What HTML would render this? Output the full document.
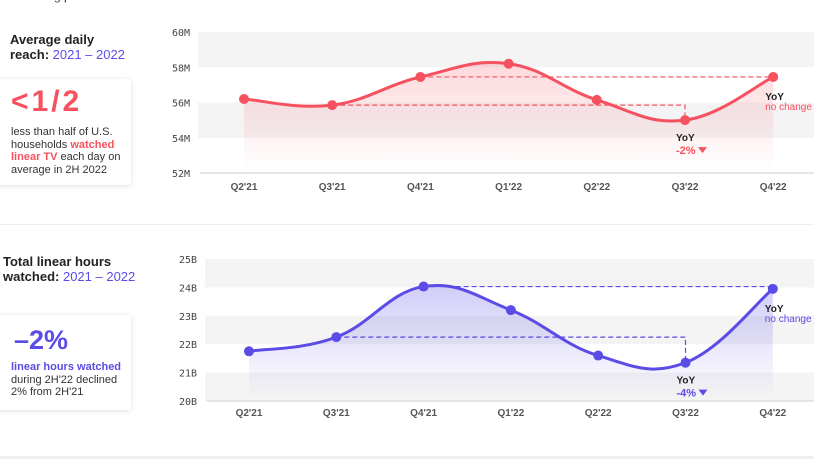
<!DOCTYPE html>
<html><head><meta charset="utf-8"><style>
body{margin:0;width:814px;height:459px;overflow:hidden;background:#fff;font-family:"Liberation Sans",sans-serif;position:relative;color:#222}
.abs{position:absolute}
.title{font-weight:bold;font-size:13px;line-height:15px;color:#222}
.title span{font-weight:normal;color:#5b4ce6}
.card{background:#fff;box-shadow:0 1px 6px rgba(0,0,0,0.12);border-radius:3px}
.small{font-size:11px;line-height:12.5px;color:#333}
</style></head><body>
<div class="abs" style="left:8px;top:-11px;font-size:12px;color:#333">streaming platforms.</div>
<div class="abs title" style="left:10px;top:32px">Average daily<br>reach: <span>2021 – 2022</span></div>
<div class="abs card" style="left:-5px;top:79px;width:136px;height:106px">
 <div class="abs" style="left:16px;top:6px;font-size:30px;font-weight:bold;color:#f5515f;letter-spacing:3px">&lt;1/2</div>
 <div class="abs small" style="left:16px;top:47px;width:120px">less than half of U.S. households <b style="color:#f5515f">watched linear TV</b> each day on average in 2H 2022</div>
</div>
<div class="abs" style="left:0;top:224px;width:814px;height:1px;background:#eee"></div>
<div class="abs title" style="left:3px;top:254px">Total linear hours<br>watched: <span>2021 – 2022</span></div>
<div class="abs card" style="left:-5px;top:315px;width:136px;height:95px">
 <div class="abs" style="left:19px;top:10px;font-size:27px;font-weight:bold;color:#5b4ce6">–2%</div>
 <div class="abs small" style="left:16px;top:46px;width:120px"><b style="color:#5b4ce6">linear hours watched</b><br>during 2H'22 declined 2% from 2H'21</div>
</div>
<div class="abs" style="left:0;top:456px;width:814px;height:3px;background:#f0f0f0"></div>
<svg id="svg" class="abs" style="left:0;top:0" width="814" height="459">
<defs>
<linearGradient id="gr" x1="0" y1="0" x2="0" y2="1"><stop offset="0" stop-color="#f5515f" stop-opacity="0.22"/><stop offset="1" stop-color="#f5515f" stop-opacity="0"/></linearGradient>
<linearGradient id="gp" x1="0" y1="0" x2="0" y2="1"><stop offset="0" stop-color="#5b4ce6" stop-opacity="0.28"/><stop offset="1" stop-color="#5b4ce6" stop-opacity="0"/></linearGradient>
</defs>
</svg>
<script>
const categories=["Q2 '21","Q3 '21","Q4 '21","Q1 '22","Q2 '22","Q3 '22","Q4 '22"];
const reachValues=[56.2,55.85,57.45,58.2,56.15,55.0,57.45];
const reachTicks=["52M","54M","56M","58M","60M"];
const hoursValues=[21.75,22.25,24.03,23.2,21.6,21.35,23.95];
const hoursTicks=["20B","21B","22B","23B","24B","25B"];
const reachYoY="-2%";
const hoursYoY="-4%";
const NS="http://www.w3.org/2000/svg";
const svg=document.getElementById('svg');
function mk(tag,attrs,name){const e=document.createElementNS(NS,tag);for(const k in attrs)e.setAttribute(k,attrs[k]);


svg.appendChild(e);return e;}
function smooth(p){let d=`M${p[0][0]},${p[0][1]}`;for(let i=0;i<p.length-1;i++){const p0=p[Math.max(i-1,0)],p1=p[i],p2=p[i+1],p3=p[Math.min(i+2,p.length-1)];const t=0.2;
d+=` C${p1[0]+(p2[0]-p0[0])*t},${p1[1]+(p2[1]-p0[1])*t} ${p2[0]-(p3[0]-p1[0])*t},${p2[1]-(p3[1]-p1[1])*t} ${p2[0]},${p2[1]}`;}return d;}
function chart(o){
 const {vals,ticks,min,max,top,bottom,left,x0,dx,color,grad,prefix,yoy,labelY}=o;
 const y=v=>bottom-(v-min)/(max-min)*(bottom-top);
 const x=i=>x0+i*dx;
 const step=(max-min)/(ticks.length-1);
 ticks.forEach((t,i)=>{const v=min+i*step;
  if(o.bands(i)) mk('rect',{x:left,y:y(v+step),width:814-left,height:y(v)-y(v+step),fill:'#f4f4f4'},prefix+'-band');
  const tx=mk('text',{x:left-8,y:y(v)+4,'text-anchor':'end','font-size':10,'font-family':'DejaVu Sans Mono, monospace',fill:'#444'},prefix+'-y-tick');tx.textContent=t;});
 mk('line',{x1:left+2,x2:814,y1:bottom,y2:bottom,stroke:'#ddd','stroke-width':1.5},prefix+'-x-axis');
 const pts=vals.map((v,i)=>[x(i),y(v)]);
 const d=smooth(pts);
 mk('path',{d:d+` L${x(vals.length-1)},${bottom-2} L${x(0)},${bottom-2} Z`,fill:`url(#${grad})`},prefix+'-area');
 const dash={stroke:color,'stroke-width':1.2,'stroke-dasharray':'5,3',fill:'none'};
 mk('path',Object.assign({d:`M${x(2)},${y(vals[2])} H${x(6)}`},dash),prefix+'-yoy-q4-line');
 mk('path',Object.assign({d:`M${x(1)},${y(vals[1])} H${x(5)} V${y(vals[5])}`},dash),prefix+'-yoy-q3-line');
 mk('path',{d,stroke:color,'stroke-width':3,fill:'none'},prefix+'-line');
 pts.forEach((p,i)=>mk('circle',{cx:p[0],cy:p[1],r:5,fill:color},prefix+'-point-'+i));
 categories.forEach((c,i)=>{const t=mk('text',{x:x(i),y:labelY,'text-anchor':'middle','font-size':10,'font-weight':'bold',fill:'#555'},prefix+'-x-label');t.textContent=c.replace(" '","'");});
 const q3=y(vals[5]);
 let t=mk('text',{x:x(5)-9,y:q3+21,'font-size':10,'font-weight':'bold',fill:'#222'},prefix+'-yoy-q3-title');t.textContent='YoY';
 t=mk('text',{x:x(5)-9,y:q3+34,'font-size':11,'font-weight':'bold',fill:color},prefix+'-yoy-q3-value');t.textContent=yoy;
 mk('path',{d:`M${x(5)+13},${q3+27} h9 l-4.5,6 z`,fill:color},prefix+'-down-arrow');
 const q4=y(vals[6]);
 t=mk('text',{x:x(6)-8,y:q4+23,'font-size':10,'font-weight':'bold',fill:'#222'},prefix+'-yoy-q4-title');t.textContent='YoY';
 t=mk('text',{x:x(6)-8,y:q4+33,'font-size':10,fill:color},prefix+'-yoy-q4-value');t.textContent='no change';
}
chart({vals:reachValues,ticks:reachTicks,min:52,max:60,top:32,bottom:173,left:198,x0:244,dx:88.2,color:'#f5515f',grad:'gr',prefix:'reach',yoy:reachYoY,labelY:190,bands:i=>i===1||i===3});
chart({vals:hoursValues,ticks:hoursTicks,min:20,max:25,top:259,bottom:401,left:205,x0:249,dx:87.3,color:'#5b4ce6',grad:'gp',prefix:'hours',yoy:hoursYoY,labelY:416,bands:i=>i===0||i===2||i===4});
</script>
</body></html>
